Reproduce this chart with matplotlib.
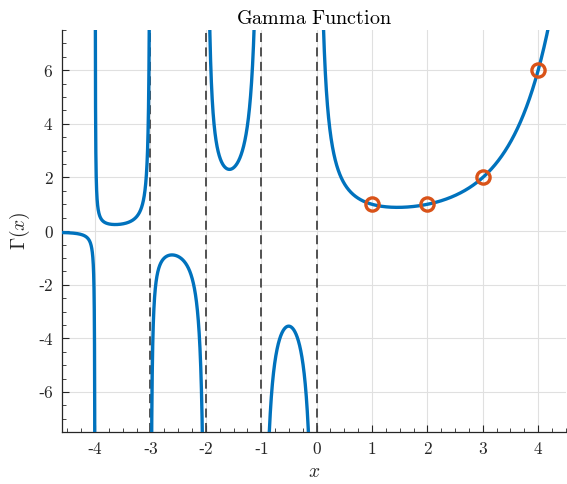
import math
import numpy as np
import matplotlib.pyplot as plt

plt.rcParams['mathtext.fontset'] = 'cm'
plt.rcParams['font.family'] = 'serif'

# branches of the curve between poles
branch_edges = [-4.6, -4, -3, -2, -1, 0, 4.5]
# dashed asymptotes drawn
asymptotes = [-3, -2, -1, 0]
# factorial points
n_pts = [1, 2, 3, 4]
gamma_pts = [1, 1, 2, 6]

xticks = [-4, -3, -2, -1, 0, 1, 2, 3, 4]
yticks = [-6, -4, -2, 0, 2, 4, 6]

blue = (0, 0.447, 0.741)
orange = (0.85, 0.325, 0.098)
axc = (0.15, 0.15, 0.15)

fig = plt.figure(figsize=(5.67, 4.84), dpi=100)
ax = fig.add_axes([0.109, 0.107, 0.889, 0.831])

gam = np.vectorize(math.gamma)
for a, b in zip(branch_edges[:-1], branch_edges[1:]):
    eps = 1e-4
    xs = np.linspace(a + (eps if a == int(a) else 0), b - (eps if b == int(b) else 0), 2000)
    ys = gam(xs)
    ys = np.clip(ys, -50, 50)
    ax.plot(xs, ys, color=blue, lw=2.4, zorder=3)

for p in asymptotes:
    ax.axvline(p, color=(0.27, 0.27, 0.27), lw=1.3, ls=(0, (5, 3)), zorder=2)

ax.plot(n_pts, gamma_pts, 'o', mfc='none', mec=orange, mew=2.4, ms=9.5, zorder=4)


def lab(t):
    return r'$\mathrm{%s}$' % (('\u2010' if t < 0 else '') + str(abs(t)))


ax.set_xlim(-4.6, 4.5)
ax.set_ylim(-7.5, 7.5)
ax.set_xticks(xticks)
ax.set_xticklabels([lab(t) for t in xticks])
ax.set_yticks(yticks)
ax.set_yticklabels([lab(t) for t in yticks])
ax.set_xticks(np.arange(-4.5, 4.51, 0.25), minor=True)
ax.set_yticks(np.arange(-7.5, 7.51, 0.5), minor=True)

ax.grid(True, which='major', color=(0.88, 0.88, 0.88), lw=0.8, zorder=0)
ax.set_axisbelow(True)
for s in ['top', 'right']:
    ax.spines[s].set_visible(False)
for s in ['left', 'bottom']:
    ax.spines[s].set_color(axc)
    ax.spines[s].set_linewidth(0.9)
ax.tick_params(which='both', direction='in', colors=axc, labelsize=12.5)
ax.tick_params(which='major', length=5, pad=6)
ax.tick_params(which='minor', length=3)

ax.set_title(r'$\mathrm{Gamma\ Function}$', fontsize=14.5, pad=4, color='black')
ax.set_xlabel(r'$x$', fontsize=14, color=axc, labelpad=4)
ax.set_ylabel(r'$\Gamma(x)$', fontsize=14, color=axc, labelpad=4)

fig.savefig('out.png', dpi=100)
